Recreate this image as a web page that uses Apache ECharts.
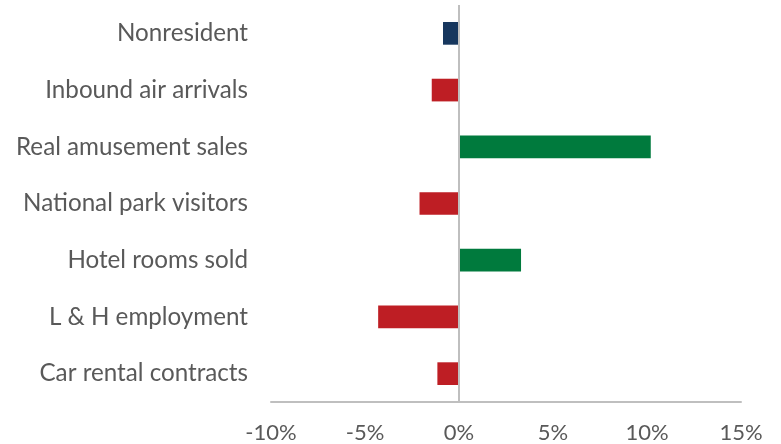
<!DOCTYPE html>
<html>
<head>
<meta charset="utf-8">
<script src="https://cdn.jsdelivr.net/npm/echarts@6/dist/echarts.min.js"></script>
<style>
  html, body { margin: 0; padding: 0; background: #fff; }
  #chart { width: 781px; height: 444px; }
</style>
</head>
<body>
<div id="chart"></div>
<script>
// Percent change by indicator
const categories = [
  'Nonresident',
  'Inbound air arrivals',
  'Real amusement sales',
  'National park visitors',
  'Hotel rooms sold',
  'L & H employment',
  'Car rental contracts'
];
const changes = [-0.85, -1.45, 10.2, -2.1, 3.3, -4.3, -1.15];
const barColors = ['#17375E', '#BE1E24', '#007A3D', '#BE1E24', '#007A3D', '#BE1E24', '#BE1E24'];
const xTicks = { min: -10, max: 15, step: 5 };

const chart = echarts.init(document.getElementById('chart'), null, { renderer: 'canvas' });
const font = 'Lato, "Open Sans", sans-serif';

chart.setOption({
  animation: false,
  grid: { left: 271, right: 40, top: 5, bottom: 42, containLabel: false },
  xAxis: {
    type: 'value',
    min: xTicks.min,
    max: xTicks.max,
    interval: xTicks.step,
    axisLine: { show: true, onZero: false, lineStyle: { color: '#BFBFBF', width: 2 } },
    axisTick: { show: false },
    splitLine: { show: false },
    axisLabel: {
      color: '#595959',
      fontFamily: font,
      fontSize: 22,
      margin: 20,
      formatter: v => v + '%'
    }
  },
  yAxis: {
    type: 'category',
    inverse: true,
    data: categories,
    axisLine: { show: false },
    axisTick: { show: false },
    axisLabel: {
      color: '#595959',
      fontFamily: font,
      fontSize: 24.2,
      margin: 23
    }
  },
  series: [{
    type: 'bar',
    barWidth: '40%',
    data: changes.map((v, i) => ({ value: v, itemStyle: { color: barColors[i] } })),
    markLine: {
      silent: true,
      symbol: 'none',
      label: { show: false },
      lineStyle: { color: '#BFBFBF', width: 2, type: 'solid' },
      data: [{ xAxis: 0 }]
    }
  }]
});
</script>
</body>
</html>
